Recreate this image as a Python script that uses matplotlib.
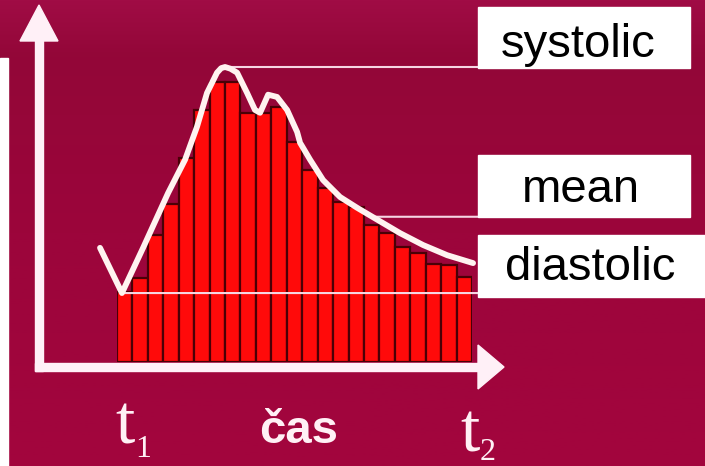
import numpy as np
import matplotlib
matplotlib.use("Agg")
import matplotlib.pyplot as plt
from matplotlib.patches import Polygon, Rectangle
from matplotlib.transforms import Affine2D, blended_transform_factory
from matplotlib.colors import LinearSegmentedColormap

# Pressure waveform over one cardiac cycle (time in sample steps, pressure in mmHg)
curve_t = [-1.10, 0.32, 1.69, 3.31, 4.41, 5.18, 5.83, 6.48, 6.75, 7.00, 7.35, 7.78,
           8.43, 8.94, 9.27, 9.79, 10.37, 11.02, 11.67, 11.86, 12.51, 13.35, 14.45,
           15.55, 16.85, 18.34, 19.83, 21.39, 23.07]
curve_p = [88.0, 80.0, 88.0, 97.7, 103.6, 109.4, 115.4, 119.0, 119.8, 120.0, 119.7, 119.0,
           115.4, 112.4, 111.9, 115.1, 114.7, 112.4, 108.5, 106.6, 103.6, 100.0, 97.0,
           95.1, 93.0, 90.6, 88.5, 86.7, 85.3]

# Sampled pressure in each time step (rectangles under the curve)
bar_p = [80.2, 82.7, 90.3, 95.8, 103.9, 112.4, 117.4, 117.4, 111.9, 111.9, 112.9,
         106.7, 101.8, 98.6, 96.1, 95.2, 92.0, 90.6, 88.2, 87.1, 85.2, 85.0, 82.9]

SYSTOLIC = 120.0
MEAN = 93.5
DIASTOLIC = 80.0
P_FLOOR = 67.8

labels = ["systolic", "mean", "diastolic"]
time_label = "čas"

W, H = 705, 466
fig = plt.figure(figsize=(W / 100, H / 100), dpi=100)

# pixel coordinates (origin top-left) for decorations
px = Affine2D().scale(1 / W, -1 / H).translate(0, 1) + fig.transFigure

# crimson background
bg = fig.add_axes([0, 0, 1, 1])
bg.set_zorder(-5)
cmap = LinearSegmentedColormap.from_list(
    "bgc", [(0.0, "#a00c45"), (0.12, "#930738"), (0.5, "#9c053b"), (1.0, "#a3053e")])
grad = np.linspace(0, 1, 256).reshape(-1, 1)
bg.imshow(grad, aspect="auto", cmap=cmap, extent=[0, 1, 0, 1], origin="upper")
bg.axis("off")

# plot area: time steps 0..23, pressure from floor to systolic
ax = fig.add_axes([117 / W, 1 - 362 / H, 355 / W, 295 / H])
ax.set_xlim(0, len(bar_p))
ax.set_ylim(P_FLOOR, SYSTOLIC)
ax.axis("off")

bx = np.arange(len(bar_p)) + 0.5
ax.bar(bx, np.array(bar_p) - P_FLOOR, bottom=P_FLOOR, width=1.0,
       color="#ff0a0a", edgecolor="#4a0006", linewidth=1.6, zorder=2)

ax.plot(curve_t, curve_p, color="#fff3f0", lw=4.2, solid_capstyle="round",
        solid_joinstyle="round", clip_on=False, zorder=4)

# reference lines from the waveform to the labels
blend = blended_transform_factory(px, ax.transData)
ct = np.array(curve_t)
cp = np.array(curve_p)
t_peak = ct[np.argmax(cp)]
t_min = ct[np.argmin(cp)]
desc = slice(int(np.argmax(cp[12:])) + 12, None)
t_mean = np.interp(MEAN, cp[desc][::-1], ct[desc][::-1])
line_kw = dict(arrowstyle="-", color="#f6d6e3", lw=1.5, shrinkA=0, shrinkB=0)
for t0, val in [(t_peak, SYSTOLIC), (t_mean, MEAN), (t_min, DIASTOLIC)]:
    ax.annotate("", xy=(t0, val), xycoords="data", xytext=(478, val),
                textcoords=blend, arrowprops=line_kw, annotation_clip=False,
                zorder=3)

axis_col = "#fff0f7"
# y axis arrow
fig.add_artist(Rectangle((35, 38), 8, 333, transform=px, color=axis_col, zorder=5))
fig.add_artist(Polygon([(20, 41), (58, 41), (39, 5)], closed=True, transform=px,
                       color=axis_col, zorder=5))
# x axis arrow
fig.add_artist(Rectangle((35, 363), 448, 8, transform=px, color=axis_col, zorder=5))
fig.add_artist(Polygon([(478, 345), (478, 389), (504, 367)], closed=True, transform=px,
                       color=axis_col, zorder=5))
# white strip on the left edge
fig.add_artist(Rectangle((0, 58), 8, 408, transform=px, color="#ffffff", zorder=5))

# label boxes
boxes = [(478, 7, 212, 61, 578, 57), (478, 155, 212, 62, 581, 202),
         (478, 235, 227, 62, 590, 280)]
for lab, (x0, y0, w, h, tx, ty) in zip(labels, boxes):
    fig.add_artist(Rectangle((x0, y0), w, h, transform=px, color="white", zorder=6))
    fig.text(tx, ty, lab, transform=px, ha="center", va="baseline",
             fontsize=34, family="Liberation Sans", color="black", zorder=7)

# time labels
tcol = "#fff0f5"
serif = dict(family="Liberation Serif", color=tcol,
             ha="center", va="baseline", transform=px)
fig.text(125, 443, "t", fontsize=50, **serif)
fig.text(143, 457, "1", fontsize=23, **serif)
fig.text(470, 452, "t", fontsize=50, **serif)
fig.text(488, 460, "2", fontsize=23, **serif)
fig.text(299, 443, time_label, transform=px, ha="center", va="baseline", fontsize=34,
         family="Liberation Sans", weight="bold", color=tcol)

fig.savefig("out.png", dpi=100)
